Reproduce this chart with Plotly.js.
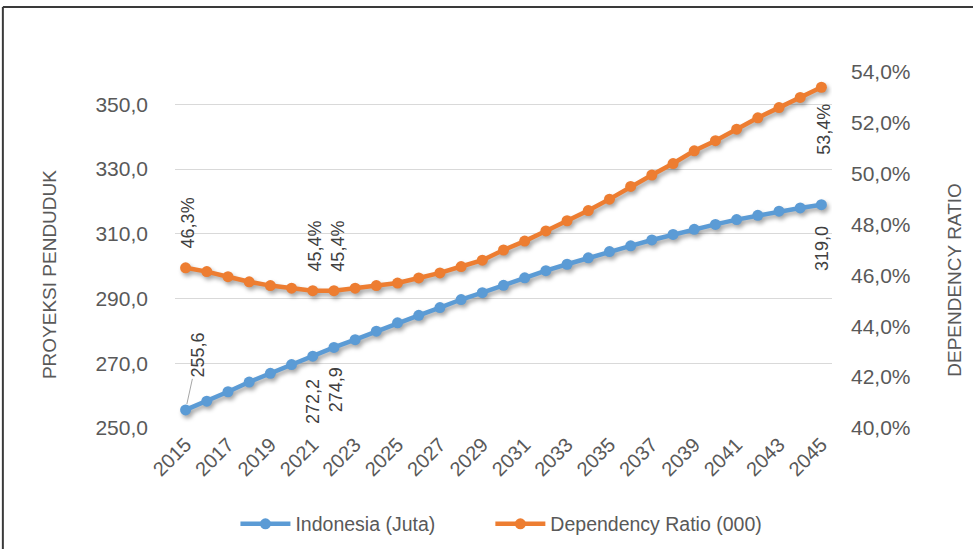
<!DOCTYPE html>
<html>
<head>
<meta charset="utf-8">
<script src="https://cdn.plot.ly/plotly-3.0.1.min.js"></script>
<style>
html,body{margin:0;padding:0;background:#fff;}
#chart{width:973px;height:549px;}
#chart .scatterlayer .trace{filter:drop-shadow(2px 3px 2px rgba(0,0,0,0.35));}
</style>
</head>
<body>
<div id="chart"></div>
<script>
const years = [2015,2016,2017,2018,2019,2020,2021,2022,2023,2024,2025,2026,2027,2028,2029,2030,2031,2032,2033,2034,2035,2036,2037,2038,2039,2040,2041,2042,2043,2044,2045];
const indonesia = [255.6,258.3,261.2,264.2,266.9,269.6,272.2,274.9,277.3,279.9,282.5,284.8,287.2,289.7,291.8,294.1,296.4,298.6,300.6,302.6,304.5,306.3,308.1,309.8,311.4,312.9,314.4,315.7,317.0,318.0,319.0];
const dependency = [0.463,0.4615,0.4595,0.4575,0.456,0.455,0.454,0.454,0.455,0.456,0.457,0.459,0.461,0.4635,0.466,0.470,0.4735,0.4775,0.4815,0.4855,0.490,0.495,0.4995,0.504,0.509,0.513,0.5175,0.522,0.526,0.530,0.534];
const seriesNames = ['Indonesia (Juta)', 'Dependency Ratio (000)'];
const labelYearsPop = [2015, 2021, 2022, 2045];
const labelYearsDep = [2015, 2021, 2022, 2045];

const FONT = 'Liberation Sans, Arial, sans-serif';
const fmtNum = v => v.toFixed(1).replace('.', ',');
const fmtPct = v => (v * 100).toFixed(1).replace('.', ',') + '%';

const traces = [
  {x: years, y: indonesia, name: seriesNames[0], type: 'scatter', mode: 'lines+markers', legend: 'legend',
   line: {color: '#5B9BD5', width: 4.5}, marker: {color: '#5B9BD5', size: 11}, yaxis: 'y'},
  {x: years, y: dependency, name: seriesNames[1], type: 'scatter', mode: 'lines+markers', legend: 'legend2',
   line: {color: '#ED7D31', width: 4.5}, marker: {color: '#ED7D31', size: 11}, yaxis: 'y2'}
];

const annotations = [];
const popShift = {2015: null, 2021: -45, 2022: -42, 2045: -44};
labelYearsPop.forEach(yr => {
  const i = years.indexOf(yr);
  const a = {x: yr, y: indonesia[i], xref: 'x', yref: 'y', text: fmtNum(indonesia[i]), textangle: -90,
    font: {family: FONT, size: 18, color: '#404040'}};
  if (yr === 2015) {
    Object.assign(a, {showarrow: true, arrowhead: 0, arrowwidth: 1, arrowcolor: '#a6a6a6', ax: 12, ay: -55, standoff: 6});
  } else {
    Object.assign(a, {showarrow: false, yshift: popShift[yr], xshift: yr === 2022 ? 2 : 0});
  }
  annotations.push(a);
});
const depShift = {2015: 45, 2021: 45, 2022: 45, 2045: -42};
labelYearsDep.forEach(yr => {
  const i = years.indexOf(yr);
  annotations.push({x: yr, y: dependency[i], xref: 'x', yref: 'y2', text: fmtPct(dependency[i]), textangle: -90,
    showarrow: false, yshift: depShift[yr], xshift: yr === 2045 ? 3 : (yr === 2022 ? 4 : 2),
    font: {family: FONT, size: 18, color: '#404040'}});
});
annotations.push({xref: 'paper', yref: 'paper', x: -0.19, y: 0.43, xanchor: 'center', yanchor: 'middle',
  text: 'PROYEKSI PENDUDUK', textangle: -90, showarrow: false, font: {family: FONT, size: 19, color: '#595959'}});
annotations.push({xref: 'paper', yref: 'paper', x: 1.187, y: 0.416, xanchor: 'center', yanchor: 'middle',
  text: 'DEPENDENCY RATIO', textangle: -90, showarrow: false, font: {family: FONT, size: 19, color: '#595959'}});

const legendCommon = {orientation: 'h', yanchor: 'middle', y: -0.27, xanchor: 'left',
  font: {family: FONT, size: 19.5, color: '#595959'}, itemwidth: 50, bgcolor: 'rgba(0,0,0,0)'};

const layout = {
  width: 973, height: 549,
  margin: {l: 175, r: 141, t: 72, b: 121, autoexpand: false},
  paper_bgcolor: '#ffffff', plot_bgcolor: '#ffffff',
  separators: ', ',
  font: {family: FONT, color: '#595959', size: 20},
  showlegend: true,
  legend: Object.assign({}, legendCommon, {x: 0.092}),
  legend2: Object.assign({}, legendCommon, {x: 0.48}),
  xaxis: {range: [2014.5, 2045.5], tickmode: 'array', tickvals: years.filter(y => (y - 2015) % 2 === 0),
    ticktext: years.filter(y => (y - 2015) % 2 === 0).map(String), tickangle: -45,
    showgrid: false, zeroline: false, showline: false, ticks: '',
    tickfont: {family: FONT, size: 20, color: '#595959'}},
  yaxis: {range: [250, 360], tickvals: [250, 270, 290, 310, 330, 350], tickformat: '.1f',
    showgrid: true, gridcolor: '#d9d9d9', gridwidth: 1, zeroline: false, showline: false, ticks: '',
    ticklabelstandoff: 26, tickfont: {family: FONT, size: 21, color: '#595959'}},
  yaxis2: {range: [0.40, 0.54], dtick: 0.02, tick0: 0.40, tickformat: '.1%', overlaying: 'y', side: 'right',
    showgrid: false, zeroline: false, showline: false, ticks: '',
    ticklabelstandoff: 18, tickfont: {family: FONT, size: 21, color: '#595959'}},
  annotations: annotations,
  shapes: [
    {type: 'line', xref: 'paper', yref: 'paper', x0: -0.262, x1: 1.22, y0: 1.1826, y1: 1.1826, line: {color: '#3a3a3a', width: 2}},
    {type: 'line', xref: 'paper', yref: 'paper', x0: -0.262, x1: -0.262, y0: 1.1826, y1: -0.35, line: {color: '#3a3a3a', width: 2}}
  ]
};

Plotly.newPlot('chart', traces, layout, {displayModeBar: false, staticPlot: true});
</script>
</body>
</html>
